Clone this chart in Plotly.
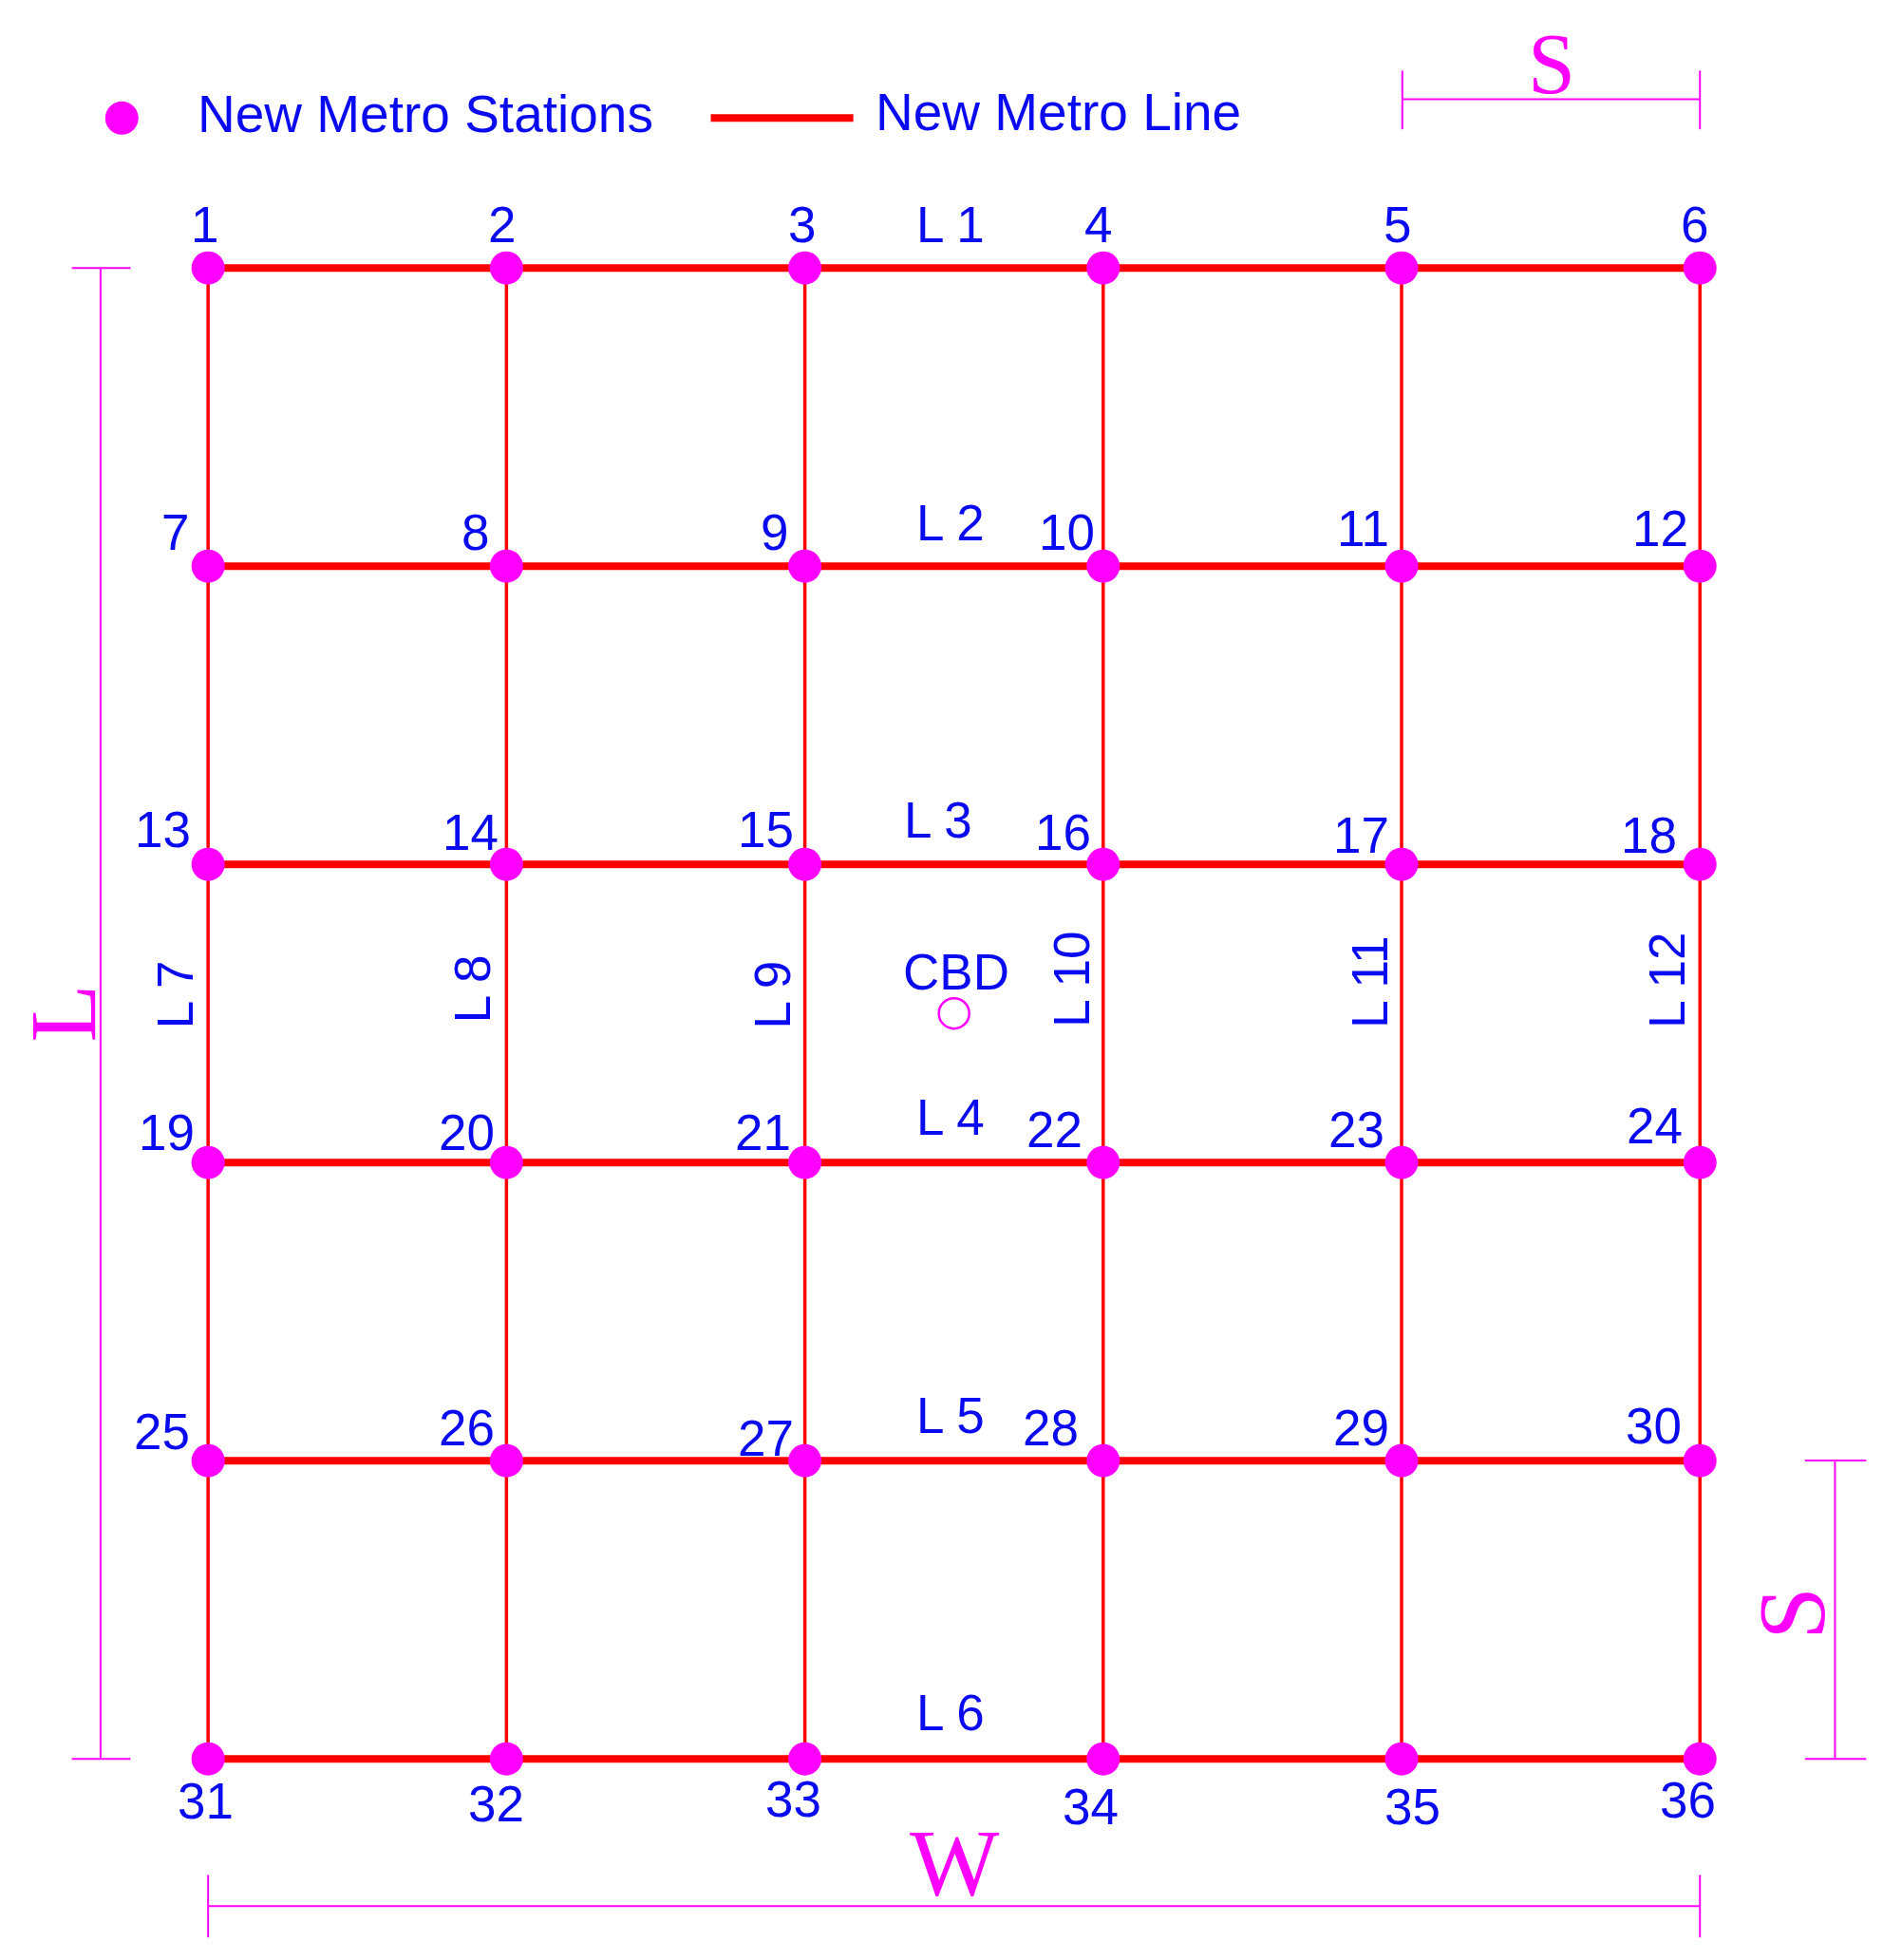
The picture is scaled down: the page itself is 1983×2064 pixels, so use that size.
import plotly.graph_objects as go

cols = [0, 1, 2, 3, 4, 5]
rows = [0, 1, 2, 3, 4, 5]
station_ids = list(range(1, 37))
h_line_names = ["L 1", "L 2", "L 3", "L 4", "L 5", "L 6"]
v_line_names = ["L 7", "L 8", "L 9", "L 10", "L 11", "L 12"]
cbd = (2.5, 2.5)

# label positions in reference (display) pixel space
lab_pos = [(163,178),(401,178),(641,178),(878,178),(1117,178),(1355,178),
           (140,425),(380,425),(619,425),(853,425),(1090,422),(1327,422),
           (130,663),(376,665),(612,663),(850,665),(1088,667),(1318,667),
           (133,905),(373,905),(610,905),(843,903),(1084,903),(1323,900),
           (129,1145),(373,1142),(612,1150),(840,1142),(1088,1142),(1322,1140),
           (164,1441),(396,1443),(634,1439),(872,1445),(1129,1445),(1349,1440)]
hl_pos = [(760,178),(760,417),(750,655),(760,893),(760,1132),(760,1370)]
vl_pos = [(140,795),(378,790),(617,795),(857,783),(1095,785),(1333,783)]

def gx(x): return (x - 166) / 238.6
def gy(y): return (y - 213) / 238.8

BLUE = "#0a0af0"; MAG = "#ff00ff"; RED = "#ff0000"
FONT = "Liberation Sans"; SERIF = "Liberation Serif"

fig = go.Figure()
for r in rows:
    fig.add_trace(go.Scatter(x=[cols[0], cols[-1]], y=[r, r], mode="lines",
                             line=dict(color=RED, width=8), showlegend=False))
for c in cols:
    fig.add_trace(go.Scatter(x=[c, c], y=[rows[0], rows[-1]], mode="lines",
                             line=dict(color=RED, width=3.5), showlegend=False))
sx = [c for r in rows for c in cols]
sy = [r for r in rows for c in cols]
fig.add_trace(go.Scatter(x=sx, y=sy, mode="markers", marker=dict(color=MAG, size=35),
                         showlegend=False))
fig.add_trace(go.Scatter(x=[cbd[0]], y=[cbd[1]], mode="markers",
                         marker=dict(color="rgba(0,0,0,0)", size=32, line=dict(color=MAG, width=2.5)),
                         showlegend=False))

ann = []
def txt(t, x, y, size=53, color=BLUE, angle=0, family=FONT):
    ann.append(dict(text=t, x=gx(x), y=gy(y), xref="x", yref="y", showarrow=False,
                    textangle=angle, font=dict(size=size, color=color, family=family)))
for sid, (x, y) in zip(station_ids, lab_pos):
    txt(str(sid), x, y)
for n, (x, y) in zip(h_line_names, hl_pos):
    txt(n, x, y)
for n, (x, y) in zip(v_line_names, vl_pos):
    txt(n, x, y, angle=-90)
txt("CBD", 764, 777)
txt("New Metro Stations", 340, 90, size=55)
txt("New Metro Line", 846, 88, size=55)
txt("L", 50, 810, size=100, color=MAG, angle=-90, family=SERIF)
txt("W", 763, 1490, size=100, color=MAG, family=SERIF)
txt("S", 1240, 50, size=90, color=MAG, family=SERIF)
txt("S", 1432, 1290, size=100, color=MAG, angle=-90, family=SERIF)

shapes = []
def seg(x0, y0, x1, y1, color=MAG, w=2):
    shapes.append(dict(type="line", x0=gx(x0), y0=gy(y0), x1=gx(x1), y1=gy(y1),
                       xref="x", yref="y", line=dict(color=color, width=w)))
seg(80, 213, 80, 1407); seg(57, 213, 104, 213); seg(57, 1407, 104, 1407)
seg(166, 1525, 1359, 1525); seg(166, 1500, 166, 1550); seg(1359, 1500, 1359, 1550)
seg(1121, 78, 1359, 78); seg(1121, 55, 1121, 102); seg(1359, 55, 1359, 102)
seg(1467, 1168, 1467, 1407); seg(1443, 1168, 1492, 1168); seg(1443, 1407, 1492, 1407)
seg(568, 93, 682, 93, color=RED, w=8)
fig.add_trace(go.Scatter(x=[gx(97)], y=[gy(93)], mode="markers",
                         marker=dict(color=MAG, size=35), showlegend=False))

fig.update_layout(width=1983, height=2064, margin=dict(l=0, r=0, t=0, b=0),
                  paper_bgcolor="white", plot_bgcolor="white",
                  annotations=ann, shapes=shapes,
                  xaxis=dict(range=[-0.672, 5.639], visible=False),
                  yaxis=dict(range=[5.70, -0.873], visible=False))
fig.write_html("out.html")
